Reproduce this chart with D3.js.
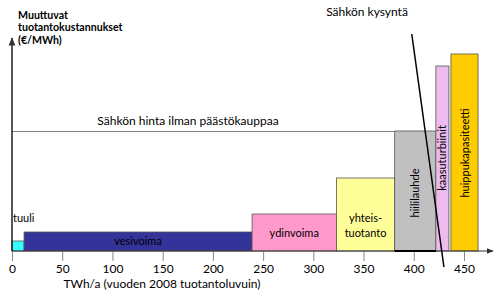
<!DOCTYPE html>
<html><head><meta charset="utf-8">
<script src="https://cdn.jsdelivr.net/npm/d3@7"></script>
<style>body{margin:0;background:#fff}svg{display:block}text{font-family:Lato,"Open Sans",sans-serif}</style>
</head><body><svg id="c" width="500" height="297"></svg>
<script>
// Data (TWh/a, variable cost in relative units)
const names = ["tuuli","vesivoima","ydinvoima","yhteistuotanto","hiililauhde","kaasuturbiinit","huippukapasiteetti"];
const starts = [0, 12, 239, 323, 381, 422, 437];
const ends   = [12, 239, 323, 381, 422, 435, 464];
const costs  = [10, 19, 37, 73, 120, 185, 197];
const colors = ["#33ffff","#333399","#ff99cc","#ffff99","#c0c0c0","#eebbee","#ffcc00"];
const xTicks = [0,50,100,150,200,250,300,350,400,450];
const price = 120;
const demand = [[398, 217],[430, -16]];

const svg = d3.select("#c");
const x = d3.scaleLinear().domain([0,450]).range([12,464]);
const y = d3.scaleLinear().domain([0,211]).range([251,40]);

// price line
svg.append("line").attr("x1",x(0)).attr("x2",x(381)).attr("y1",y(price)+0.5).attr("y2",y(price)+0.5)
  .attr("stroke","#808080").attr("stroke-width",1.2);

// bars
const data = names.map((n,i)=>({n,s:starts[i],e:ends[i],c:costs[i],col:colors[i]}));
svg.selectAll("rect.bar").data(data).enter().append("rect")
  .attr("x",d=>x(d.s)).attr("width",d=>x(d.e)-x(d.s))
  .attr("y",d=>y(d.c)).attr("height",d=>y(0)-y(d.c))
  .attr("fill",d=>d.col).attr("stroke","#555").attr("stroke-width",0.8);

// axes
const xa = svg.append("g").attr("transform",`translate(0,${y(0)})`)
  .call(d3.axisBottom(x).tickValues(xTicks).tickSize(10).tickPadding(3).tickFormat(d3.format("d")));
xa.select(".domain").remove();
xa.selectAll(".tick line").attr("stroke","#888");
xa.selectAll(".tick text").attr("font-size",12).attr("fill","#000").style("font-family","Lato");

const defs = svg.append("defs");
defs.append("marker").attr("id","ar").attr("viewBox","0 0 10 10").attr("refX",9).attr("refY",5)
  .attr("markerWidth",6).attr("markerHeight",6).attr("orient","auto-start-reverse")
  .append("path").attr("d","M0,1L10,5L0,9z").attr("fill","#333");
svg.append("line").attr("x1",x(0)).attr("x2",493).attr("y1",y(0)).attr("y2",y(0))
  .attr("stroke","#333").attr("stroke-width",1.2).attr("marker-end","url(#ar)");
svg.append("line").attr("x1",x(0)).attr("x2",x(0)).attr("y1",y(0)).attr("y2",38)
  .attr("stroke","#111").attr("stroke-width",1.4).attr("marker-end","url(#ar)");
svg.append("line").attr("x1",x(381)).attr("x2",x(422)).attr("y1",y(0)).attr("y2",y(0))
  .attr("stroke","#000").attr("stroke-width",2);

// demand line
svg.append("line").attr("x1",x(demand[0][0])).attr("y1",y(demand[0][1]))
  .attr("x2",x(demand[1][0])).attr("y2",y(demand[1][1])).attr("stroke","#000").attr("stroke-width",1.5);

// texts
const t = (tx,ty,s,opt={})=>svg.append("text").attr("x",tx).attr("y",ty).text(s)
  .attr("font-size",opt.fs||12).attr("font-weight",opt.fw||"normal")
  .attr("text-anchor",opt.a||"start").attr("fill",opt.fill||"#000");
t(18,19,"Muuttuvat",{fs:10.6,fw:"bold"});
t(18,31,"tuotantokustannukset",{fs:10.6,fw:"bold"});
t(18,44,"(€/MWh)",{fs:10.6,fw:"bold"});
t(367,16,"Sähkön kysyntä",{a:"middle"});
t(188,125,"Sähkön hinta ilman päästökauppaa",{a:"middle"});
t(13,222,"tuuli",{fs:11});
t((x(12)+x(239))/2,245,"vesivoima",{fs:11,a:"middle"});
t((x(239)+x(323))/2,237,"ydinvoima",{fs:11,a:"middle"});
t((x(323)+x(381))/2,222,"yhteis-",{fs:11,a:"middle"});
t((x(323)+x(381))/2,237,"tuotanto",{fs:11,a:"middle"});
const rot=(cx,cy,s)=>svg.append("text").attr("transform",`translate(${cx},${cy}) rotate(-90)`)
  .attr("text-anchor","middle").attr("font-size",11).text(s);
rot(x((381+422)/2)+4,193,"hiililauhde");
rot(x((422+435)/2)+4,158,"kaasuturbiinit");
rot(x((437+464)/2)+4,153,"huippukapasiteetti");
t(162,288,"TWh/a (vuoden 2008 tuotantoluvuin)",{a:"middle"});
</script></body></html>
